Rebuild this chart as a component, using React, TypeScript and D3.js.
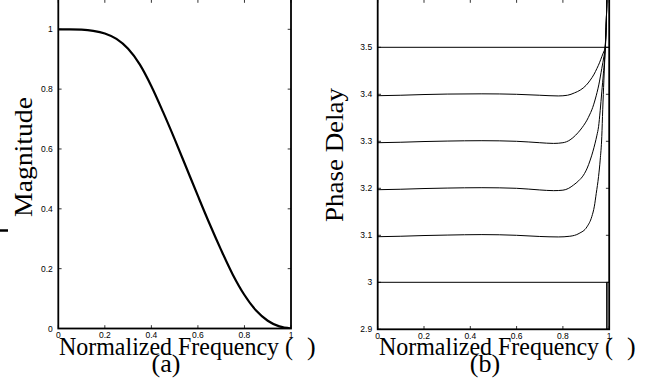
import React from "react";
import * as d3 from "d3";

// ---------- data ----------
const magFreq = [0, 0.05, 0.1, 0.15, 0.2, 0.25, 0.3, 0.35, 0.4, 0.45, 0.5, 0.55, 0.6, 0.65, 0.7, 0.75, 0.8, 0.85, 0.9, 0.95, 1.0];
const magValues = [1.0, 1.0, 0.999, 0.995, 0.986, 0.968, 0.935, 0.883, 0.81, 0.724, 0.633, 0.538, 0.443, 0.35, 0.262, 0.18, 0.112, 0.06, 0.026, 0.007, 0.0];

const delay30: [number, number][] = [[0, 3.0], [0.989, 3.0], [0.99, 2.85], [0.991, 3.0], [1.0, 3.0]];
const delay31: [number, number][] = [[0, 3.097], [0.1, 3.098], [0.2, 3.0995], [0.3, 3.1005], [0.45, 3.1015], [0.6, 3.1], [0.7, 3.0975], [0.78, 3.0965], [0.83, 3.098], [0.87, 3.104], [0.904, 3.118], [0.925, 3.14], [0.936, 3.162], [0.944, 3.189], [0.954, 3.225], [0.961, 3.26], [0.968, 3.31], [0.972, 3.367], [0.977, 3.43], [0.983, 3.5], [0.99, 3.6], [0.995, 3.72]];
const delay32: [number, number][] = [[0, 3.197], [0.1, 3.198], [0.2, 3.1995], [0.3, 3.2005], [0.45, 3.2013], [0.6, 3.2], [0.7, 3.1965], [0.76, 3.195], [0.8, 3.196], [0.825, 3.2], [0.846, 3.207], [0.868, 3.216], [0.889, 3.228], [0.905, 3.243], [0.918, 3.26], [0.93, 3.279], [0.939, 3.296], [0.947, 3.313], [0.954, 3.331], [0.961, 3.365], [0.968, 3.405], [0.975, 3.445], [0.983, 3.5], [0.99, 3.6], [0.995, 3.72]];
const delay33: [number, number][] = [[0, 3.297], [0.1, 3.298], [0.2, 3.2995], [0.3, 3.3005], [0.45, 3.3013], [0.6, 3.3], [0.7, 3.297], [0.76, 3.2955], [0.8, 3.297], [0.831, 3.303], [0.855, 3.313], [0.875, 3.324], [0.89, 3.334], [0.904, 3.345], [0.915, 3.356], [0.925, 3.367], [0.94, 3.39], [0.955, 3.42], [0.968, 3.455], [0.977, 3.48], [0.983, 3.5], [0.99, 3.6], [0.995, 3.72]];
const delay34: [number, number][] = [[0, 3.397], [0.1, 3.398], [0.2, 3.3995], [0.3, 3.4005], [0.45, 3.401], [0.6, 3.4], [0.7, 3.398], [0.78, 3.3965], [0.82, 3.398], [0.85, 3.403], [0.875, 3.409], [0.9, 3.419], [0.918, 3.43], [0.935, 3.443], [0.947, 3.455], [0.958, 3.467], [0.968, 3.48], [0.976, 3.49], [0.983, 3.5], [0.99, 3.6], [0.995, 3.72]];
const delay35: [number, number][] = [[0, 3.5], [1.0, 3.5]];

const xTicks = [0, 0.2, 0.4, 0.6, 0.8, 1];
const xTickLabels = ["0", "0.2", "0.4", "0.6", "0.8", "1"];
const magTicks = [0, 0.2, 0.4, 0.6, 0.8, 1];
const magTickLabels = ["0", "0.2", "0.4", "0.6", "0.8", "1"];
const delayTicks = [2.9, 3.0, 3.1, 3.2, 3.3, 3.4, 3.5];
const delayTickLabels = ["2.9", "3", "3.1", "3.2", "3.3", "3.4", "3.5"];

const xLabelText = "Normalized Frequency (";
const xLabelClose = ")";

// ---------- layout ----------
const W = 658;
const H = 387;
const TOP = -1;
const SANS = "'Liberation Sans', Arial, sans-serif";
const SERIF = "'Liberation Serif', 'Times New Roman', serif";
const TICK = 3.3;

type PanelProps = {
  x0: number;
  x1: number;
  bottom: number;
  y: d3.ScaleLinear<number, number>;
  yTicks: number[];
  yTickLabels: string[];
  id: string;
  children: React.ReactNode;
};

function Panel({ x0, x1, bottom, y, yTicks, yTickLabels, id, children }: PanelProps) {
  const x = d3.scaleLinear().domain([0, 1]).range([x0, x1]);
  return (
    <g>
      <defs>
        <clipPath id={id}>
          <rect x={x0} y={TOP} width={x1 - x0} height={bottom - TOP} />
        </clipPath>
      </defs>
      <g clipPath={`url(#${id})`}>{children}</g>
      {/* ticks */}
      {xTicks.map((t, i) => (
        <g key={"xt" + i}>
          <line x1={x(t)} x2={x(t)} y1={bottom} y2={bottom - TICK} stroke="#000" strokeWidth={0.8} />
          <line x1={x(t)} x2={x(t)} y1={TOP} y2={TOP + TICK + 0.5} stroke="#000" strokeWidth={0.8} />
          <text x={x(t)} y={bottom + 9.5} fontFamily={SANS} fontSize={8.5} textAnchor="middle" fill="#000">
            {xTickLabels[i]}
          </text>
        </g>
      ))}
      {yTicks.map((t, i) => (
        <g key={"yt" + i}>
          <line x1={x0} x2={x0 + TICK} y1={y(t)} y2={y(t)} stroke="#000" strokeWidth={0.8} />
          <line x1={x1} x2={x1 - TICK} y1={y(t)} y2={y(t)} stroke="#000" strokeWidth={0.8} />
          <text x={x0 - 5.5} y={y(t) + 3} fontFamily={SANS} fontSize={8.5} textAnchor="end" fill="#000">
            {yTickLabels[i]}
          </text>
        </g>
      ))}
      <rect x={x0} y={TOP} width={x1 - x0} height={bottom - TOP} fill="none" stroke="#000" strokeWidth={1.8} />
    </g>
  );
}

export default function App() {
  // left panel
  const lx0 = 58.3, lx1 = 291, lBottom = 328.5;
  const xL = d3.scaleLinear().domain([0, 1]).range([lx0, lx1]);
  const yL = d3.scaleLinear().domain([0, 1]).range([lBottom, 29.3]);
  const magLine = d3
    .line<number>()
    .x((_, i) => xL(magFreq[i]))
    .y((d) => yL(d))
    .curve(d3.curveMonotoneX);

  // right panel
  const rx0 = 377.7, rx1 = 609.2, rBottom = 329.3;
  const xR = d3.scaleLinear().domain([0, 1]).range([rx0, rx1]);
  const yR = d3.scaleLinear().domain([2.9, 3.5]).range([rBottom, 47.3]);
  const smooth = d3
    .line<[number, number]>()
    .x((d) => xR(d[0]))
    .y((d) => yR(d[1]))
    .curve(d3.curveMonotoneX);
  const straight = d3
    .line<[number, number]>()
    .x((d) => xR(d[0]))
    .y((d) => yR(d[1]));

  const curves = [delay31, delay32, delay33, delay34];

  return (
    <div style={{ position: "fixed", left: 0, top: 0, width: W, height: H, background: "#fff" }}>
      <svg width={W} height={H} viewBox={`0 0 ${W} ${H}`} style={{ display: "block" }}>
        <rect x={0} y={0} width={W} height={H} fill="#fff" />

        {/* stray mark at the left edge */}
        <line x1={0} x2={8} y1={230.5} y2={230.5} stroke="#000" strokeWidth={2.5} />

        <Panel x0={lx0} x1={lx1} bottom={lBottom} y={yL} yTicks={magTicks} yTickLabels={magTickLabels} id="clipL">
          <path d={magLine(magValues) || ""} fill="none" stroke="#000" strokeWidth={2.2} />
        </Panel>

        <Panel x0={rx0} x1={rx1} bottom={rBottom} y={yR} yTicks={delayTicks} yTickLabels={delayTickLabels} id="clipR">
          <path d={straight(delay35) || ""} fill="none" stroke="#000" strokeWidth={1} />
          <path d={straight(delay30) || ""} fill="none" stroke="#000" strokeWidth={1} />
          {curves.map((c, i) => (
            <path key={i} d={smooth(c) || ""} fill="none" stroke="#000" strokeWidth={1} />
          ))}
        </Panel>

        {/* axis labels, left */}
        <text x={59} y={355} fontFamily={SERIF} fontSize={26} textLength={234} lengthAdjust="spacingAndGlyphs" fill="#000">
          {xLabelText}
        </text>
        <text x={307} y={355} fontFamily={SERIF} fontSize={26} fill="#000">
          {xLabelClose}
        </text>
        <text x={166} y={372} fontFamily={SERIF} fontSize={26} textAnchor="middle" fill="#000">
          (a)
        </text>
        <text
          transform="translate(32,157) rotate(-90)"
          fontFamily={SERIF}
          fontSize={26}
          textAnchor="middle"
          textLength={120}
          lengthAdjust="spacingAndGlyphs"
          fill="#000"
        >
          Magnitude
        </text>

        {/* axis labels, right */}
        <text x={379} y={355} fontFamily={SERIF} fontSize={26} textLength={234} lengthAdjust="spacingAndGlyphs" fill="#000">
          {xLabelText}
        </text>
        <text x={627} y={355} fontFamily={SERIF} fontSize={26} fill="#000">
          {xLabelClose}
        </text>
        <text x={485} y={372} fontFamily={SERIF} fontSize={26} textAnchor="middle" fill="#000">
          (b)
        </text>
        <text
          transform="translate(343,155) rotate(-90)"
          fontFamily={SERIF}
          fontSize={26}
          textAnchor="middle"
          textLength={134}
          lengthAdjust="spacingAndGlyphs"
          fill="#000"
        >
          Phase Delay
        </text>
      </svg>
    </div>
  );
}
